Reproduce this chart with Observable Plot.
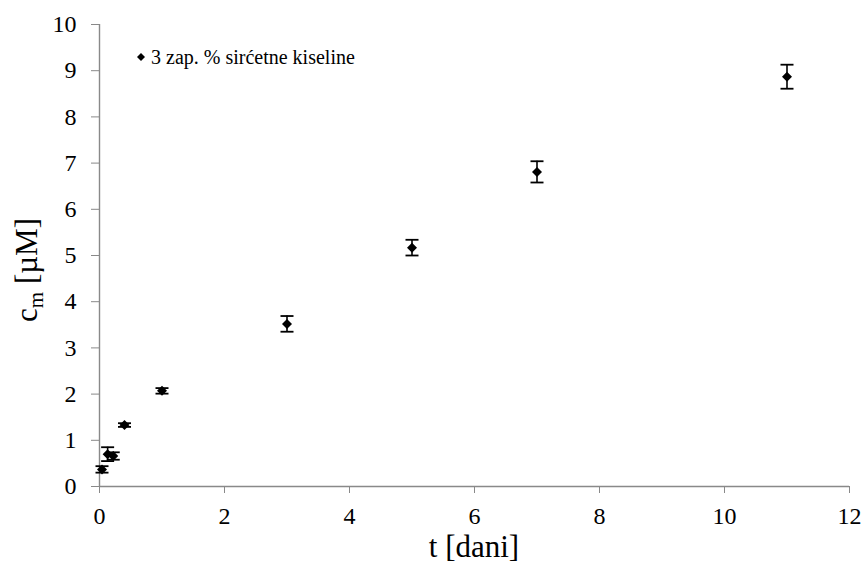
<!DOCTYPE html>
<html><head><meta charset="utf-8">
<script src="https://cdn.jsdelivr.net/npm/d3@7"></script>
<script src="https://cdn.jsdelivr.net/npm/@observablehq/plot@0.6"></script>
<style>
body{margin:0;background:#fff}
svg text{font-family:"Liberation Serif","Times New Roman",serif !important;}
</style>
</head><body><div id="chart"></div>
<script>
// ---- data ----
const days = [0.04, 0.13, 0.22, 0.40, 1, 3, 5, 7, 11];
const conc = [0.37, 0.70, 0.66, 1.33, 2.07, 3.52, 5.17, 6.81, 8.87];
const errs = [0.07, 0.15, 0.08, 0.04, 0.06, 0.17, 0.17, 0.23, 0.26];
const xTicks = [0, 2, 4, 6, 8, 10, 12];
const yTicks = [0, 1, 2, 3, 4, 5, 6, 7, 8, 9, 10];
const seriesName = "3 zap. % sirćetne kiseline";
const xTitle = "t [dani]";
const yTitleBase = "c", yTitleSub = "m", yTitleRest = " [µM]";

const rows = days.map((t, i) => ({t, c: conc[i], lo: conc[i] - errs[i], hi: conc[i] + errs[i]}));

const capSymbol = {draw(ctx) { ctx.moveTo(-6.5, 0); ctx.lineTo(6.5, 0); }};
const diamondSymbol = {draw(ctx) { const s = 5; ctx.moveTo(0, -s); ctx.lineTo(s, 0); ctx.lineTo(0, s); ctx.lineTo(-s, 0); ctx.closePath(); }};

const W = 865, H = 567, ML = 99, MR = 16, MT = 24, MB = 81;
const axisGray = "#898989";
const serif = "'Liberation Serif', 'Times New Roman', serif";

const chart = Plot.plot({
  width: W, height: H,
  marginLeft: ML, marginRight: MR, marginTop: MT, marginBottom: MB,
  style: {fontFamily: serif, background: "#fff", color: "#000"},
  x: {domain: [0, 12]},
  y: {domain: [0, 10]},
  marks: [
    Plot.axisX({ticks: xTicks, tickSize: 7, tickPadding: 13, fontSize: 24, fontFamily: serif, stroke: axisGray, fill: "#000", label: null, tickFormat: d => String(d)}),
    Plot.axisY({ticks: yTicks, tickSize: 8, tickPadding: 15, fontSize: 24, fontFamily: serif, stroke: axisGray, fill: "#000", label: null, tickFormat: d => String(d)}),
    Plot.ruleY([0], {stroke: axisGray, strokeWidth: 1.4}),
    Plot.ruleX([0], {stroke: axisGray, strokeWidth: 1.4}),
    Plot.ruleX(rows, {x: "t", y1: "lo", y2: "hi", stroke: "#000", strokeWidth: 1.6}),
    Plot.dot(rows, {x: "t", y: "hi", symbol: capSymbol, r: 5, stroke: "#000", strokeWidth: 1.8, fill: "none"}),
    Plot.dot(rows, {x: "t", y: "lo", symbol: capSymbol, r: 5, stroke: "#000", strokeWidth: 1.8, fill: "none"}),
    Plot.dot(rows, {x: "t", y: "c", symbol: diamondSymbol, r: 5, fill: "#000", stroke: "none"})
  ]
});

const svg = d3.select(chart);
// x title
svg.append("text")
  .attr("x", (ML + (W - MR)) / 2).attr("y", 557)
  .attr("text-anchor", "middle")
  .attr("font-size", 31)
  .attr("fill", "#000")
  .text(xTitle);
// y title with subscript
const yt = svg.append("text")
  .attr("transform", `translate(37, ${(MT + (H - MB)) / 2 + 15}) rotate(-90)`)
  .attr("text-anchor", "middle")
  .attr("font-size", 31)
  .attr("fill", "#000");
yt.append("tspan").text(yTitleBase);
yt.append("tspan").attr("font-size", 21).attr("dy", 6).text(yTitleSub);
yt.append("tspan").attr("dy", -6).text(yTitleRest);
// legend
svg.append("path")
  .attr("d", "M141,53 L145,57 L141,61 L137,57 Z")
  .attr("fill", "#000");
svg.append("text")
  .attr("x", 151).attr("y", 64)
  .attr("text-anchor", "start")
  .attr("font-size", 20)
  .attr("fill", "#000")
  .text(seriesName);

document.getElementById("chart").appendChild(chart);
</script>
</body></html>
